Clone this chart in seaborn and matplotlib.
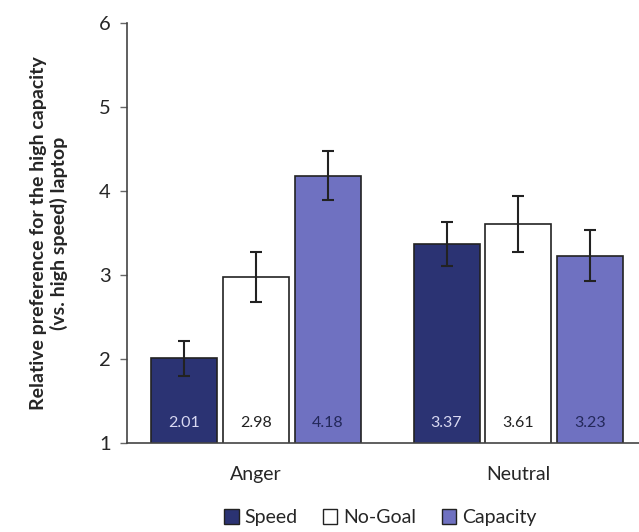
import numpy as np
import pandas as pd
import matplotlib
matplotlib.use("Agg")
import matplotlib.pyplot as plt
from matplotlib.patches import Patch
import seaborn as sns

# --- data ---
emotions = ["Anger", "Neutral"]
goals = ["Speed", "No-Goal", "Capacity"]
means = {
    "Speed": [2.01, 3.37],
    "No-Goal": [2.98, 3.61],
    "Capacity": [4.18, 3.23],
}
errors = {
    "Speed": [0.21, 0.26],
    "No-Goal": [0.30, 0.33],
    "Capacity": [0.29, 0.30],
}
bar_colors = ["#2b3373", "#ffffff", "#6f71c1"]
label_colors = ["#d9d9f2", "#222222", "#23285a"]

rows = []
for g in goals:
    for i, e in enumerate(emotions):
        rows.append({"emotion": e, "goal": g, "mean": means[g][i], "err": errors[g][i]})
df = pd.DataFrame(rows)

sns.set_style("white")
plt.rcParams["font.family"] = ["Lato", "DejaVu Sans"]

fig = plt.figure(figsize=(6.39, 5.32), dpi=100)
ax = fig.add_axes([0.199, 0.167, 0.801, 0.790])

sns.barplot(data=df, x="emotion", y="mean", hue="goal", order=emotions,
            hue_order=goals, palette=bar_colors, saturation=1, errorbar=None,
            width=0.82, gap=0.08, edgecolor="#222222", linewidth=1.2,
            legend=False, ax=ax)

# error bars and value labels, placed on the drawn bars
for k, g in enumerate(goals):
    cont = ax.containers[k]
    sub = df[df.goal == g].set_index("emotion").loc[emotions]
    xs = [p.get_x() + p.get_width() / 2 for p in cont.patches]
    ax.errorbar(xs, sub["mean"], yerr=sub["err"], fmt="none", ecolor="#222222",
                elinewidth=1.5, capsize=4, capthick=1.5, zorder=5)
    for x, v in zip(xs, sub["mean"]):
        ax.text(x, 1.24, f"{v:.2f}", ha="center", va="center", fontsize=11.5,
                color=label_colors[k])

ax.set_ylim(1, 6)
ax.set_xlim(-0.49, 1.46)
ax.set_yticks([1, 2, 3, 4, 5, 6])
ax.tick_params(axis="y", left=True, length=5, width=1, color="#666666",
               labelsize=14.5, pad=7)
ax.tick_params(axis="x", bottom=False, labelsize=14, pad=13)
for s in ["top", "right"]:
    ax.spines[s].set_visible(False)
for s in ["left", "bottom"]:
    ax.spines[s].set_color("#444444")
    ax.spines[s].set_linewidth(1.2)

ax.set_xlabel("")
ax.set_ylabel("Relative preference for the high capacity\n(vs. high speed) laptop",
              fontsize=14, fontweight="bold", labelpad=22)

handles = [Patch(facecolor=c, edgecolor="#222222", linewidth=1) for c in bar_colors]
fig.legend(handles, goals, loc="lower center", bbox_to_anchor=(0.595, -0.022),
           ncol=3, frameon=False, fontsize=14, handlelength=0.75,
           handleheight=0.75, handletextpad=0.3, columnspacing=1.3)

fig.savefig("out.png", dpi=100)
